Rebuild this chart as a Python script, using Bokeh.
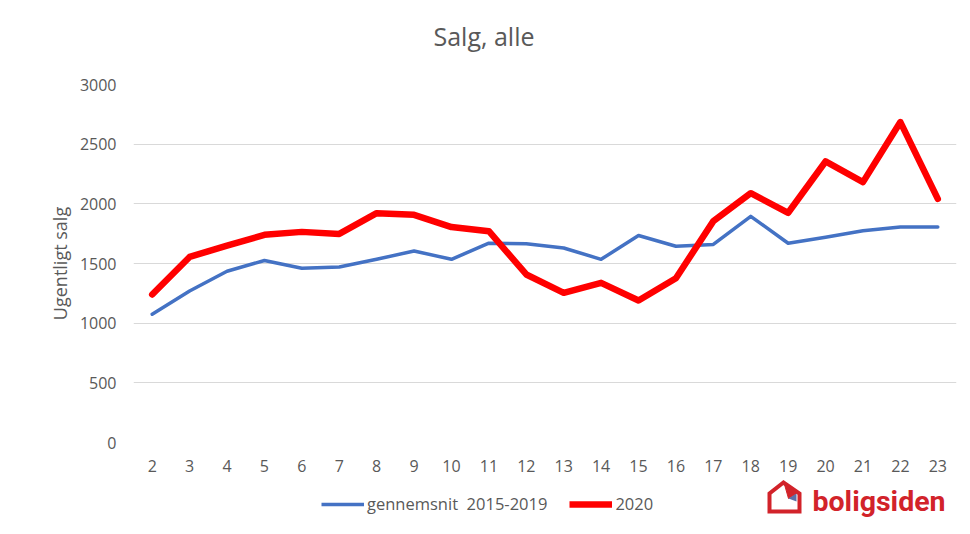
from bokeh.plotting import figure
from bokeh.layouts import column
from bokeh.models import Range1d, Legend, LegendItem, Label, PolyAnnotation
from bokeh.embed import file_html
from bokeh.resources import INLINE

# ---- data ----
weeks = list(range(2, 24))
avg_2015_2019 = [1075, 1270, 1435, 1525, 1460, 1470, 1535, 1605, 1535, 1670, 1665,
                 1630, 1535, 1735, 1645, 1660, 1895, 1670, 1720, 1775, 1805, 1805]
sales_2020 = [1240, 1555, 1650, 1740, 1765, 1748, 1922, 1908, 1805, 1771, 1408,
              1254, 1338, 1190, 1377, 1855, 2089, 1925, 2355, 2182, 2685, 2042]
y_ticks = [0, 500, 1000, 1500, 2000, 2500, 3000]
title_text = "Salg, alle"
y_label = "Ugentligt salg"
series_labels = ["gennemsnit  2015-2019", "2020"]
logo_text = "boligsiden"

GRAY = "#595959"
FONT = "Open Sans"
BLUE = "#4472C4"
RED2020 = "#FF0000"
RED = "#d2232a"

LEFT, RIGHT = 133, 14
W = 970


def strip(top, bottom):
    """A bare figure whose data coordinates equal page pixels (for title / legend / logo)."""
    f = figure(width=W, height=bottom - top, output_backend="svg", toolbar_location=None,
               x_range=Range1d(LEFT, W - RIGHT), y_range=Range1d(bottom, top),
               x_axis_location=None, y_axis_location=None,
               min_border_left=LEFT, min_border_right=RIGHT,
               min_border_top=0, min_border_bottom=0)
    f.grid.visible = False
    f.outline_line_color = None
    f.background_fill_color = "white"
    f.border_fill_color = "white"
    return f


# ---- title strip ----
p0 = strip(0, 64)
p0.add_layout(Label(x=433, y=35, text=title_text, text_font=FONT,
                    text_font_size="25px", text_color=GRAY,
                    text_baseline="alphabetic"))

# ---- main chart ----
p = figure(width=W, height=414, output_backend="svg", toolbar_location=None,
           x_range=Range1d(1.5, 23.5), y_range=Range1d(0, 3000),
           min_border_left=LEFT, min_border_right=RIGHT, min_border_top=20, min_border_bottom=36)
p.background_fill_color = "white"
p.border_fill_color = "white"
p.outline_line_color = None

p.xgrid.visible = False
p.ygrid.grid_line_color = "#d9d9d9"
p.ygrid.grid_line_width = 1

for ax in (p.xaxis, p.yaxis):
    ax.axis_line_color = None
    ax.major_tick_line_color = None
    ax.minor_tick_line_color = None
    ax.major_tick_out = 0
    ax.major_tick_in = 0
    ax.major_label_text_font = FONT
    ax.major_label_text_font_size = "16px"
    ax.major_label_text_color = GRAY

p.xaxis.ticker = weeks
p.xaxis.major_label_standoff = 17
p.yaxis.ticker = y_ticks
p.yaxis.major_label_standoff = 17
p.yaxis.axis_label = y_label
p.yaxis.axis_label_text_font = FONT
p.yaxis.axis_label_text_font_size = "18px"
p.yaxis.axis_label_text_font_style = "normal"
p.yaxis.axis_label_text_color = GRAY
p.yaxis.axis_label_standoff = 5

p.line(weeks, avg_2015_2019, line_color=BLUE, line_width=3.5,
       line_join="round", line_cap="round")
p.line(weeks, sales_2020, line_color=RED2020, line_width=6.5,
       line_join="round", line_cap="round")

# ---- bottom strip: legend + logo ----
p2 = strip(478, 534)

nan = float("nan")
lg_avg = p2.line(x=[nan], y=[nan], line_color=BLUE, line_width=3.5)
lg_2020 = p2.line(x=[nan], y=[nan], line_color=RED2020, line_width=6.5)

legend = Legend(items=[LegendItem(label=series_labels[0], renderers=[lg_avg]),
                       LegendItem(label=series_labels[1], renderers=[lg_2020])],
                orientation="horizontal", location=(321 - LEFT, 19),
                border_line_color=None, background_fill_alpha=0,
                label_text_font=FONT, label_text_font_size="16.5px",
                label_text_color=GRAY, glyph_width=43, glyph_height=20,
                label_standoff=3, spacing=22, padding=0, margin=0)
p2.add_layout(legend, "center")

logo = Label(x=812, y=501, text=logo_text,
             text_font="Roboto", text_font_style="bold", text_font_size="28.5px",
             text_color=RED, text_baseline="alphabetic")
p2.add_layout(logo)

house = PolyAnnotation(xs=[769, 769, 783, 799, 799], ys=[511, 493, 482, 493, 511],
                       fill_alpha=0, line_color=RED, line_alpha=1, line_width=4,
                       line_join="miter")
p2.add_layout(house)
fold = PolyAnnotation(xs=[784, 796, 788], ys=[484, 493, 498],
                      fill_color=RED, fill_alpha=1, line_color=RED, line_alpha=1,
                      line_width=1)
p2.add_layout(fold)
corner = PolyAnnotation(xs=[788, 796, 796], ys=[498, 493, 501],
                        fill_color="#5b6fa8", fill_alpha=1, line_color=None)
p2.add_layout(corner)

layout = column(p0, p, p2, spacing=0)

open("out.html", "w").write(file_html(layout, INLINE))
